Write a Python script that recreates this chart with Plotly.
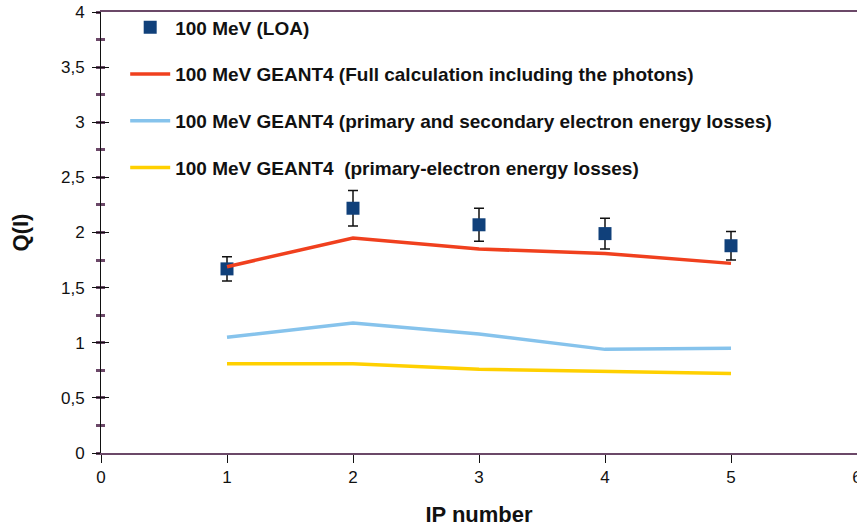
import plotly.graph_objects as go

# IP positions and measured / simulated charge ratio Q(I)
ip = [1, 2, 3, 4, 5]
q_loa = [1.67, 2.22, 2.07, 1.99, 1.88]
q_loa_err = [0.11, 0.16, 0.15, 0.14, 0.13]
q_full = [1.69, 1.95, 1.85, 1.81, 1.72]
q_prim_sec = [1.05, 1.18, 1.08, 0.94, 0.95]
q_prim = [0.81, 0.81, 0.76, 0.74, 0.72]

names = [
    "100 MeV (LOA)",
    "100 MeV GEANT4 (Full calculation including the photons)",
    "100 MeV GEANT4 (primary and secondary electron energy losses)",
    "100 MeV GEANT4  (primary-electron energy losses)",
]

y_ticks = [0, 0.5, 1, 1.5, 2, 2.5, 3, 3.5, 4]
y_labels = ["0", "0,5", "1", "1,5", "2", "2,5", "3", "3,5", "4"]
x_ticks = [0, 1, 2, 3, 4, 5, 6]

FONT = "Liberation Sans Narrow, Arial Narrow, Liberation Sans, Arial"
AXIS_PURPLE = "#6b4868"

fig = go.Figure()

fig.add_trace(go.Scatter(
    x=ip, y=q_loa, mode="markers", name=names[0], legendgroup="a",
    marker=dict(symbol="square", size=13, color="#10407a"),
    error_y=dict(type="data", array=q_loa_err, color="#111111",
                 thickness=1.5, width=5),
))
fig.add_trace(go.Scatter(
    x=ip, y=q_full, mode="lines", name=names[1], legendgroup="b",
    line=dict(color="#f0401e", width=3.5),
))
fig.add_trace(go.Scatter(
    x=ip, y=q_prim_sec, mode="lines", name=names[2], legendgroup="c",
    line=dict(color="#86c3ec", width=3.5),
))
fig.add_trace(go.Scatter(
    x=ip, y=q_prim, mode="lines", name=names[3], legendgroup="d",
    line=dict(color="#ffd000", width=3.5),
))
# invisible trace on the twin y-axis so its inner ticks are rendered
fig.add_trace(go.Scatter(x=[0], y=[0], yaxis="y2", mode="markers",
                         marker=dict(opacity=0), showlegend=False,
                         hoverinfo="skip"))

fig.update_layout(
    width=857, height=528,
    margin=dict(l=101, r=0, t=12, b=75),
    paper_bgcolor="white", plot_bgcolor="white",
    font=dict(family=FONT, size=16, color="#111111"),
    showlegend=True,
    legend=dict(
        x=0.032, y=1.008, xanchor="left", yanchor="top",
        bgcolor="rgba(0,0,0,0)", tracegroupgap=19,
        font=dict(family=FONT, size=19, color="#111111", weight="bold"),
        itemwidth=40,
    ),
    xaxis=dict(
        range=[0, 6], tickvals=x_ticks, showgrid=False, zeroline=False,
        showline=True, linecolor=AXIS_PURPLE, linewidth=2, mirror=True,
        ticks="outside", ticklen=8, tickcolor="#111111", tickwidth=1,
        tickfont=dict(size=17), ticklabeloverflow="allow", automargin=False,
        title=dict(text="<b>IP number</b>", font=dict(size=22), standoff=20),
    ),
    yaxis=dict(
        range=[0, 4], tickvals=y_ticks, ticktext=y_labels,
        showgrid=False, zeroline=False, automargin=False,
        showline=True, linecolor="#111111", linewidth=1,
        ticks="outside", ticklen=8, tickcolor="#111111", tickwidth=1,
        tickfont=dict(size=17), ticklabelstandoff=4,
        minor=dict(dtick=0.25, ticks="outside", ticklen=4,
                   tickcolor=AXIS_PURPLE, tickwidth=2.5),
        title=dict(text="<b>Q(I)</b>", font=dict(size=22), standoff=26),
    ),
    yaxis2=dict(
        range=[0, 4], overlaying="y", side="left", anchor="x",
        tickvals=y_ticks, showticklabels=False, showgrid=False,
        zeroline=False, showline=False, automargin=False,
        ticks="inside", ticklen=8, tickcolor="#111111", tickwidth=1,
        minor=dict(dtick=0.25, ticks="inside", ticklen=4,
                   tickcolor=AXIS_PURPLE, tickwidth=2.5),
    ),
)

fig.write_html("out.html")
